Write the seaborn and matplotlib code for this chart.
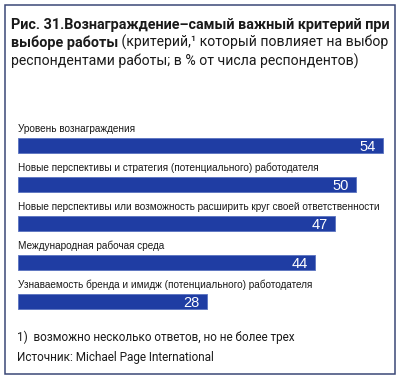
import matplotlib
matplotlib.use("Agg")
import matplotlib.pyplot as plt
import matplotlib.transforms as mtransforms
from matplotlib.patches import Rectangle
from matplotlib import font_manager
import seaborn as sns
import pandas as pd

categories = [
    "Уровень вознаграждения",
    "Новые перспективы и стратегия (потенциального) работодателя",
    "Новые перспективы или возможность расширить круг своей ответственности",
    "Международная рабочая среда",
    "Узнаваемость бренда и имидж (потенциального) работодателя",
]
values = [54, 50, 47, 44, 28]
title_bold_1 = "Рис. 31.Вознаграждение–самый важный критерий при"
title_bold_2 = "выборе работы"
title_reg_2 = " (критерий,¹ который повлияет на выбор"
title_reg_3 = "респондентами работы; в % от числа респондентов)"
footnote = "1)  возможно несколько ответов, но не более трех"
source = "Источник: Michael Page International"

sns.set_theme(style="white")
names = {f.name for f in font_manager.fontManager.ttflist}
NARROW = "Liberation Sans Narrow" if "Liberation Sans Narrow" in names else "Liberation Sans"
TFONT = ["Roboto", "DejaVu Sans"]
plt.rcParams["font.family"] = ["Liberation Sans", "DejaVu Sans"]

W, H = 400, 379
BAR_COLOR = "#1f3da3"
TXT = "#1a1a1a"
fig = plt.figure(figsize=(W / 100, H / 100), dpi=100)
fig.patch.set_facecolor("white")
renderer = fig.canvas.get_renderer()


def px(x, y):
    return x / W, 1 - y / H


def fit_text(x, y, s, target_w, family, weight="normal", color=TXT, size0=9):
    fx, fy = px(x, y)
    t = fig.text(fx, fy, s, fontsize=size0, family=family, weight=weight,
                 color=color, ha="left", va="baseline")
    w = t.get_window_extent(renderer).width
    t.set_fontsize(size0 * target_w / w)
    return t


# frame
fig.patches.append(Rectangle((5 / W, 1 - 374 / H), 390 / W, 369 / H,
                             transform=fig.transFigure, fill=False,
                             edgecolor="#3a4876", lw=1.1))

# title
t1 = fit_text(11, 28.5, title_bold_1, 379, TFONT, weight="bold")
fs_title = t1.get_fontsize()
t3 = fit_text(11, 65.5, title_reg_3, 346, TFONT)
fs_reg = t3.get_fontsize()
fx, fy = px(11, 47)
t2 = fig.text(fx, fy, title_bold_2, fontsize=fs_title, family=TFONT, weight="bold",
              color=TXT, ha="left", va="baseline")
ext = t2.get_window_extent(renderer)
fig.text(ext.x1 / W, fy, title_reg_2, fontsize=fs_reg, family=TFONT, color=TXT,
         ha="left", va="baseline")

# bars
df = pd.DataFrame({"cat": categories, "val": values})
ax_left, ax_w = 17.5, 6.76 * 56
top_px, bot_px = 126.3, 321.2
ax = fig.add_axes([ax_left / W, 1 - bot_px / H, ax_w / W, (bot_px - top_px) / H])
sns.barplot(data=df, y="cat", x="val", orient="h", color=BAR_COLOR, width=0.385,
            saturation=1, ax=ax, edgecolor="#5a72c0", linewidth=0.6)
ax.set_xlim(0, 56)
ax.set_ylim(4.5, -0.5)
ax.axis("off")

# category labels
probe = ax.text(0, 0, categories[2], family=NARROW, fontsize=8)
lw = probe.get_window_extent(renderer).width
probe.remove()
fs_lab = 8 * 361 / lw
for i, c in enumerate(categories):
    ax.text(0, i - 0.36, c, family=NARROW, fontsize=fs_lab, color=TXT,
            ha="left", va="baseline")

# value labels
off = mtransforms.offset_copy(ax.transData, fig=fig, x=-7, y=0, units="dots")
for i, v in enumerate(values):
    ax.text(v, i, str(v), transform=off, color="white", fontsize=10.5,
            ha="right", va="center_baseline")

# footnotes
fit_text(17, 340.5, footnote, 279, TFONT)
fit_text(17, 360.5, source, 199, TFONT)

fig.savefig("out.png", dpi=100, facecolor="white")
